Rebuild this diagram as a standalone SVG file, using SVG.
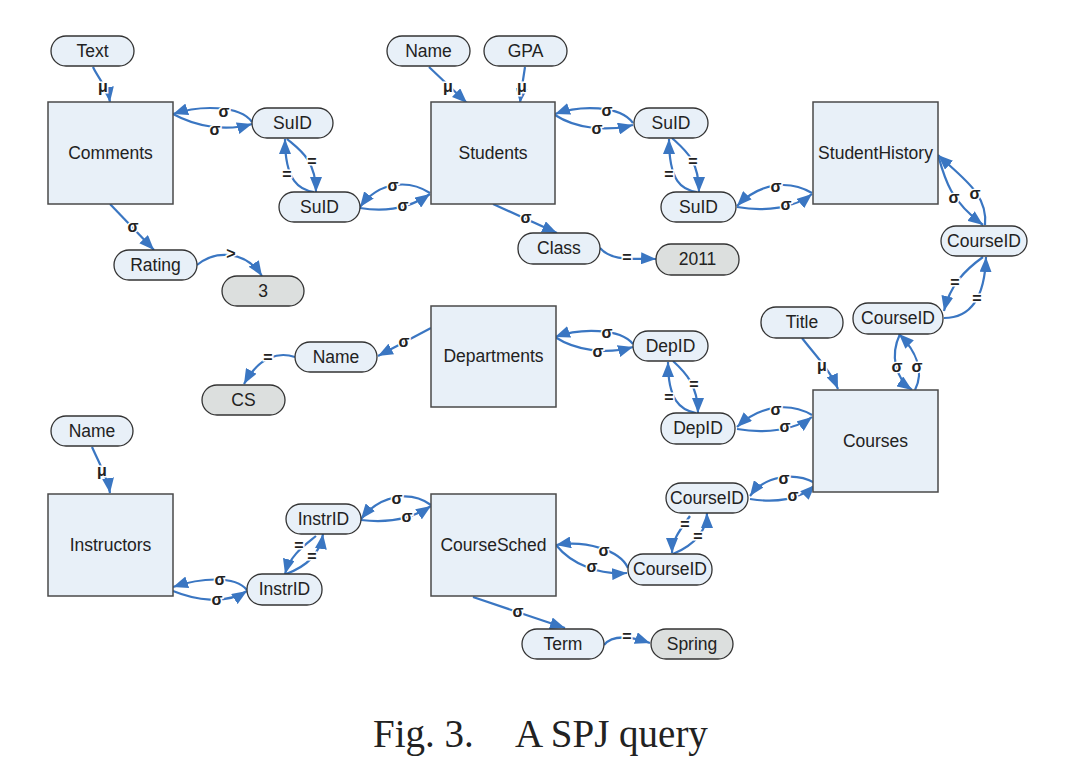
<svg xmlns="http://www.w3.org/2000/svg" width="1065" height="768" viewBox="0 0 1065 768">
<style>
.box{fill:#e8f0f8;stroke:#4a4a4a;stroke-width:1.5}
.pill{fill:#e8f0f8;stroke:#333;stroke-width:1.3}
.val{fill:#dcdfde;stroke:#333;stroke-width:1.3}
.t{font-family:"Liberation Sans",Arial,sans-serif;font-size:17.5px;fill:#222;text-anchor:middle}
.e{fill:none;stroke:#3a76c2;stroke-width:2.2;marker-end:url(#ah)}
.l{font-family:"Liberation Sans",Arial,sans-serif;font-size:16px;font-weight:bold;fill:#222;text-anchor:middle;stroke:#fff;stroke-width:3;paint-order:stroke}
.cap{font-family:"Liberation Serif","Times New Roman",serif;font-size:39px;fill:#222}
</style>
<defs>
<marker id="ah" markerUnits="userSpaceOnUse" markerWidth="16" markerHeight="12" refX="15" refY="6" orient="auto">
<path d="M0,0 L15,6 L0,12 z" fill="#3a76c2"/>
</marker>
</defs>
<rect width="1065" height="768" fill="#fff"/>

<g id="connectors">
<path class="e" d="M93,67 C98,78 108,88 110,102"/>
<path class="e" d="M252,122 C240,105 200,105 173,114"/>
<path class="e" d="M173,114 C195,126 225,132 252,124"/>
<path class="e" d="M287,139 C300,150 316,160 316,192"/>
<path class="e" d="M314,192 C300,190 285,182 285,139"/>
<path class="e" d="M110,204 L154,250"/>
<path class="e" d="M197,265 C215,250 245,250 262,276"/>
<path class="e" d="M430,193 C410,180 380,180 360,207"/>
<path class="e" d="M360,208 C385,212 410,208 430,194"/>
<path class="e" d="M429,67 L467,103"/>
<path class="e" d="M525,67 Q522,85 520,103"/>
<path class="e" d="M633,123 C620,105 580,105 555,114"/>
<path class="e" d="M555,115 C575,128 605,132 633,125"/>
<path class="e" d="M672,138 C685,150 699,160 699,192"/>
<path class="e" d="M697,192 C682,190 669,182 669,139"/>
<path class="e" d="M812,193 C790,180 760,182 737,206"/>
<path class="e" d="M737,207 C765,212 795,208 812,194"/>
<path class="e" d="M493,204 L557,233"/>
<path class="e" d="M600,248 C612,262 635,258 656,259"/>
<path class="e" d="M938,155 C945,180 950,200 983,225"/>
<path class="e" d="M985,225 C988,195 965,180 938,155"/>
<path class="e" d="M983,257 C965,270 950,285 944,311"/>
<path class="e" d="M944,318 C975,318 985,290 986,257"/>
<path class="e" d="M802,338 C815,355 830,370 838,389"/>
<path class="e" d="M900,334 C890,355 895,378 912,390"/>
<path class="e" d="M915,390 C925,370 915,350 899,334"/>
<path class="e" d="M431,328 L378,356"/>
<path class="e" d="M295,357 C280,352 260,355 244,384"/>
<path class="e" d="M633,344 C620,328 580,328 555,337"/>
<path class="e" d="M555,337 C575,350 605,355 633,347"/>
<path class="e" d="M673,361 C685,372 698,385 698,413"/>
<path class="e" d="M696,413 C680,410 668,400 668,362"/>
<path class="e" d="M812,415 C790,402 760,405 737,427"/>
<path class="e" d="M737,429 C765,434 795,430 812,417"/>
<path class="e" d="M815,483 C795,472 765,475 750,496"/>
<path class="e" d="M750,499 C775,503 800,500 815,485"/>
<path class="e" d="M690,516 C680,530 672,540 672,553"/>
<path class="e" d="M673,554 C695,545 707,530 707,513"/>
<path class="e" d="M628,568 C620,550 585,540 556,545"/>
<path class="e" d="M556,545 C572,565 600,575 627,573"/>
<path class="e" d="M473,597 L565,628"/>
<path class="e" d="M604,645 C612,635 630,636 650,643"/>
<path class="e" d="M431,505 C410,490 380,495 361,519"/>
<path class="e" d="M361,520 C385,523 410,520 431,506"/>
<path class="e" d="M316,536 C305,545 290,555 285,574"/>
<path class="e" d="M286,574 C305,567 320,555 323,534"/>
<path class="e" d="M247,590 C235,575 200,578 173,587"/>
<path class="e" d="M173,591 C195,600 225,605 247,591"/>
<path class="e" d="M92,447 C100,465 108,478 110,493"/>

<text class="l" x="103" y="92">μ</text>
<text class="l" x="224" y="117">σ</text>
<text class="l" x="215" y="135">σ</text>
<text class="l" x="312" y="167">=</text>
<text class="l" x="287" y="180">=</text>
<text class="l" x="133" y="232">σ</text>
<text class="l" x="231" y="259">&gt;</text>
<text class="l" x="393" y="191">σ</text>
<text class="l" x="403" y="211">σ</text>
<text class="l" x="448" y="92">μ</text>
<text class="l" x="522" y="92">μ</text>
<text class="l" x="607" y="116">σ</text>
<text class="l" x="597" y="134">σ</text>
<text class="l" x="693" y="167">=</text>
<text class="l" x="669" y="180">=</text>
<text class="l" x="776" y="192">σ</text>
<text class="l" x="786" y="210">σ</text>
<text class="l" x="526" y="223">σ</text>
<text class="l" x="627" y="263">=</text>
<text class="l" x="954" y="203">σ</text>
<text class="l" x="975" y="199">σ</text>
<text class="l" x="955" y="288">=</text>
<text class="l" x="977" y="304">=</text>
<text class="l" x="822" y="371">μ</text>
<text class="l" x="897" y="372">σ</text>
<text class="l" x="917" y="372">σ</text>
<text class="l" x="404" y="347">σ</text>
<text class="l" x="268" y="363">=</text>
<text class="l" x="607" y="338">σ</text>
<text class="l" x="598" y="357">σ</text>
<text class="l" x="694" y="390">=</text>
<text class="l" x="669" y="403">=</text>
<text class="l" x="776" y="415">σ</text>
<text class="l" x="785" y="432">σ</text>
<text class="l" x="784" y="484">σ</text>
<text class="l" x="793" y="501">σ</text>
<text class="l" x="685" y="530">=</text>
<text class="l" x="698" y="542">=</text>
<text class="l" x="604" y="556">σ</text>
<text class="l" x="592" y="572">σ</text>
<text class="l" x="518" y="617">σ</text>
<text class="l" x="627" y="642">=</text>
<text class="l" x="397" y="504">σ</text>
<text class="l" x="407" y="522">σ</text>
<text class="l" x="299" y="551">=</text>
<text class="l" x="312" y="562">=</text>
<text class="l" x="220" y="585">σ</text>
<text class="l" x="217" y="605">σ</text>
<text class="l" x="102" y="476">μ</text>
</g>

<g id="Comments"><rect class="box" x="48" y="102" width="125" height="102"/><text class="t" x="110.5" y="159">Comments</text></g>
<g id="Students"><rect class="box" x="431" y="102" width="124" height="102"/><text class="t" x="493" y="159">Students</text></g>
<g id="StudentHistory"><rect class="box" x="813" y="102" width="125" height="102"/><text class="t" x="875.5" y="159">StudentHistory</text></g>
<g id="Departments"><rect class="box" x="431" y="306" width="125" height="101"/><text class="t" x="493.5" y="362">Departments</text></g>
<g id="Courses"><rect class="box" x="813" y="390" width="125" height="102"/><text class="t" x="875.5" y="447">Courses</text></g>
<g id="Instructors"><rect class="box" x="48" y="494" width="125" height="102"/><text class="t" x="110.5" y="551">Instructors</text></g>
<g id="CourseSched"><rect class="box" x="431" y="494" width="125" height="102"/><text class="t" x="493.5" y="551">CourseSched</text></g>

<g id="Text"><rect class="pill" x="51" y="36" width="83" height="30" rx="15"/><text class="t" x="92.5" y="57">Text</text></g>
<g id="SuID1"><rect class="pill" x="252" y="108" width="81" height="30" rx="15"/><text class="t" x="292.5" y="129">SuID</text></g>
<g id="SuID2"><rect class="pill" x="279" y="192" width="81" height="30" rx="15"/><text class="t" x="319.5" y="213">SuID</text></g>
<g id="Rating"><rect class="pill" x="114" y="250" width="83" height="30" rx="15"/><text class="t" x="155.5" y="271">Rating</text></g>
<g id="v3"><rect class="val" x="222" y="276" width="82" height="30" rx="15"/><text class="t" x="263" y="297">3</text></g>
<g id="Name1"><rect class="pill" x="387" y="36" width="83" height="30" rx="15"/><text class="t" x="428.5" y="57">Name</text></g>
<g id="GPA"><rect class="pill" x="484" y="36" width="83" height="30" rx="15"/><text class="t" x="525.5" y="57">GPA</text></g>
<g id="SuID3"><rect class="pill" x="634" y="108" width="74" height="30" rx="15"/><text class="t" x="671" y="129">SuID</text></g>
<g id="SuID4"><rect class="pill" x="661" y="192" width="75" height="30" rx="15"/><text class="t" x="698.5" y="213">SuID</text></g>
<g id="Class"><rect class="pill" x="518" y="233" width="82" height="31" rx="15"/><text class="t" x="559" y="254">Class</text></g>
<g id="v2011"><rect class="val" x="656" y="244" width="83" height="31" rx="15"/><text class="t" x="697.5" y="265">2011</text></g>
<g id="CourseID1"><rect class="pill" x="941" y="226" width="86" height="30" rx="15"/><text class="t" x="984" y="247">CourseID</text></g>
<g id="CourseID2"><rect class="pill" x="853" y="303" width="90" height="31" rx="15"/><text class="t" x="898" y="324">CourseID</text></g>
<g id="Title"><rect class="pill" x="761" y="307" width="82" height="31" rx="15"/><text class="t" x="802" y="328">Title</text></g>
<g id="DepID1"><rect class="pill" x="633" y="331" width="75" height="30" rx="15"/><text class="t" x="670.5" y="352">DepID</text></g>
<g id="DepID2"><rect class="pill" x="661" y="413" width="74" height="31" rx="15"/><text class="t" x="698" y="434">DepID</text></g>
<g id="Name2"><rect class="pill" x="295" y="342" width="82" height="30" rx="15"/><text class="t" x="336" y="363">Name</text></g>
<g id="CS"><rect class="val" x="202" y="385" width="83" height="30" rx="15"/><text class="t" x="243.5" y="406">CS</text></g>
<g id="CourseID3"><rect class="pill" x="666" y="483" width="82" height="30" rx="15"/><text class="t" x="707" y="504">CourseID</text></g>
<g id="CourseID4"><rect class="pill" x="628" y="554" width="84" height="31" rx="15"/><text class="t" x="670" y="575">CourseID</text></g>
<g id="Term"><rect class="pill" x="522" y="629" width="82" height="30" rx="15"/><text class="t" x="563" y="650">Term</text></g>
<g id="Spring"><rect class="val" x="651" y="629" width="82" height="30" rx="15"/><text class="t" x="692" y="650">Spring</text></g>
<g id="Name3"><rect class="pill" x="51" y="416" width="82" height="30" rx="15"/><text class="t" x="92" y="437">Name</text></g>
<g id="InstrID1"><rect class="pill" x="286" y="504" width="75" height="30" rx="15"/><text class="t" x="323.5" y="525">InstrID</text></g>
<g id="InstrID2"><rect class="pill" x="247" y="574" width="75" height="31" rx="15"/><text class="t" x="284.5" y="595">InstrID</text></g>

<g id="caption"><text class="cap" x="373" y="747">Fig. 3.</text><text class="cap" x="515" y="747">A SPJ query</text></g>
</svg>
